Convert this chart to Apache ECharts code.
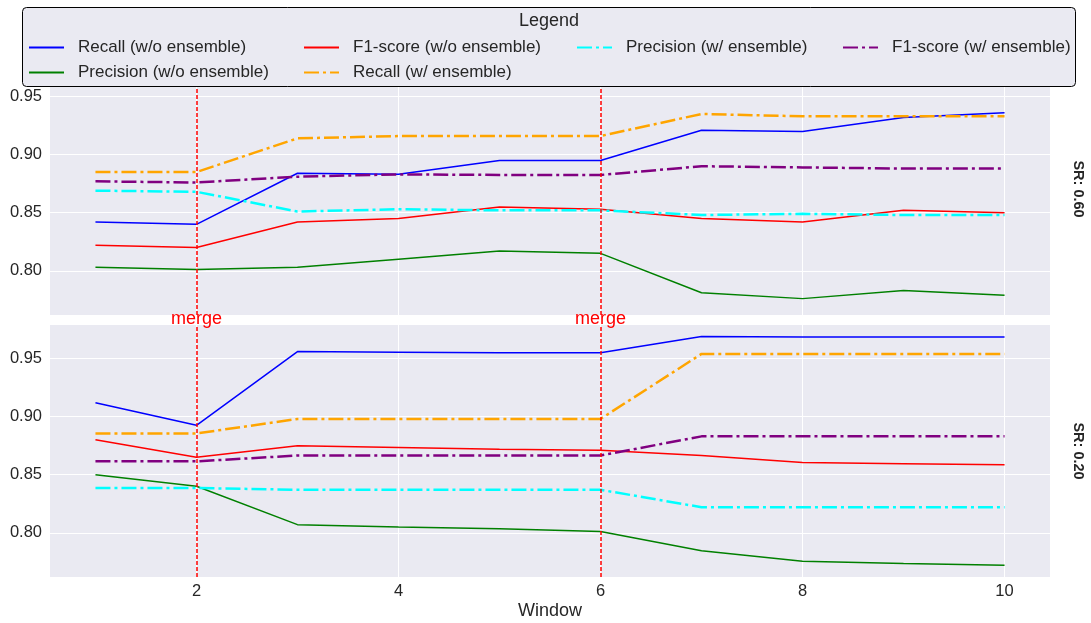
<!DOCTYPE html>
<html><head><meta charset="utf-8">
<script src="https://cdn.jsdelivr.net/npm/echarts@6/dist/echarts.min.js"></script>
<style>html,body{margin:0;padding:0;background:#fff}#c{width:1091px;height:623px}</style>
</head><body><div id="c"></div>
<script>
// ---------- data ----------
const windows = [1, 2, 3, 4, 5, 6, 7, 8, 9, 10];
const xTicks = [2, 4, 6, 8, 10];
const yTicks = [0.80, 0.85, 0.90, 0.95];
const mergeWindows = [2, 6];
const panelLabels = ['SR: 0.60', 'SR: 0.20'];
const seriesNames = [
  'Recall (w/o ensemble)', 'Precision (w/o ensemble)', 'F1-score (w/o ensemble)',
  'Recall (w/ ensemble)', 'Precision (w/ ensemble)', 'F1-score (w/ ensemble)'
];
// SR 0.60 (top panel)
const recallWo60    = [0.842, 0.840, 0.884, 0.883, 0.895, 0.895, 0.921, 0.920, 0.932, 0.936];
const precisionWo60 = [0.803, 0.801, 0.803, 0.810, 0.817, 0.815, 0.781, 0.776, 0.783, 0.779];
const f1Wo60        = [0.822, 0.820, 0.842, 0.845, 0.855, 0.853, 0.845, 0.842, 0.852, 0.850];
const recallW60     = [0.885, 0.885, 0.914, 0.916, 0.916, 0.916, 0.935, 0.933, 0.933, 0.933];
const precisionW60  = [0.869, 0.868, 0.851, 0.853, 0.852, 0.852, 0.848, 0.849, 0.848, 0.848];
const f1W60         = [0.877, 0.876, 0.881, 0.883, 0.8825, 0.8825, 0.890, 0.889, 0.888, 0.888];
// SR 0.20 (bottom panel)
const recallWo20    = [0.912, 0.8925, 0.956, 0.9555, 0.955, 0.955, 0.969, 0.9685, 0.9685, 0.9685];
const precisionWo20 = [0.850, 0.840, 0.807, 0.805, 0.8035, 0.801, 0.7845, 0.7755, 0.7735, 0.772];
const f1Wo20        = [0.880, 0.865, 0.875, 0.8735, 0.872, 0.871, 0.8665, 0.8605, 0.8595, 0.8585];
const recallW20     = [0.8855, 0.8855, 0.898, 0.898, 0.898, 0.898, 0.954, 0.954, 0.954, 0.954];
const precisionW20  = [0.8385, 0.8385, 0.837, 0.837, 0.837, 0.837, 0.822, 0.822, 0.822, 0.822];
const f1W20         = [0.8615, 0.8615, 0.8665, 0.8665, 0.8665, 0.8665, 0.883, 0.883, 0.883, 0.883];

const panelData = [
  [recallWo60, precisionWo60, f1Wo60, recallW60, precisionW60, f1W60],
  [recallWo20, precisionWo20, f1Wo20, recallW20, precisionW20, f1W20]
];

// ---------- styles ----------
const colors = ['#0000ff', '#008000', '#ff0000', '#ffa500', '#00ffff', '#800080'];
const dashDot = [15, 4, 3, 4];
const lineTypes = ['solid', 'solid', 'solid', dashDot, dashDot, dashDot];
const lineWidths = [1.5, 1.5, 1.5, 2.5, 2.5, 2.5];
const FONT = '"Liberation Sans", Arial, sans-serif';
const TXT = '#262626';
const BG = '#eaeaf2';

const yMin = 0.7619, yMax = 0.9789;
const xMin = 0.55, xMax = 10.45;

const grids = [
  { left: 50, width: 1000, top: 63, height: 252, backgroundColor: BG, show: true, borderWidth: 0, outerBoundsMode: 'none', containLabel: false },
  { left: 50, width: 1000, top: 325, height: 252, backgroundColor: BG, show: true, borderWidth: 0, outerBoundsMode: 'none', containLabel: false }
];

const xAxes = grids.map((g, i) => ({
  type: 'value', gridIndex: i, min: xMin, max: xMax,
  axisLine: { show: false },
  axisTick: { show: false, customValues: xTicks },
  axisLabel: { show: i === 1, customValues: xTicks, color: TXT, fontSize: 16.5, fontFamily: FONT, margin: 6 },
  splitLine: { show: true, lineStyle: { color: '#ffffff', width: 1 } },
  name: i === 1 ? 'Window' : '',
  nameLocation: 'middle', nameGap: 25,
  nameTextStyle: { color: TXT, fontSize: 18, fontFamily: FONT }
}));

const yAxes = [];
grids.forEach((g, i) => {
  yAxes.push({
    type: 'value', gridIndex: i, min: yMin, max: yMax,
    axisLine: { show: false },
    axisTick: { show: false, customValues: yTicks },
    axisLabel: { customValues: yTicks, color: TXT, fontSize: 16.5, fontFamily: FONT, margin: 8,
      formatter: v => v.toFixed(2) },
    splitLine: { show: true, lineStyle: { color: '#ffffff', width: 1 } }
  });
  yAxes.push({
    type: 'value', gridIndex: i, min: yMin, max: yMax, position: 'right',
    axisLine: { show: false }, axisTick: { show: false }, axisLabel: { show: false },
    splitLine: { show: false },
    name: panelLabels[i], nameLocation: 'middle', nameRotate: -90, nameGap: 20,
    nameTextStyle: { color: TXT, fontSize: 14.5, fontWeight: 'bold', fontFamily: FONT }
  });
});

const series = [];
panelData.forEach((arrs, p) => {
  arrs.forEach((vals, k) => {
    series.push({
      type: 'line', name: seriesNames[k],
      xAxisIndex: p, yAxisIndex: p * 2,
      data: windows.map((w, j) => [w, vals[j]]),
      symbol: 'none', animation: false,
      lineStyle: { color: colors[k], width: lineWidths[k], type: lineTypes[k] },
      itemStyle: { color: colors[k] },
      z: 3 + k * 0.01
    });
  });
  series.push({
    type: 'line', name: 'merge', xAxisIndex: p, yAxisIndex: p * 2, data: [],
    symbol: 'none', animation: false, z: 4,
    markLine: {
      silent: true, symbol: 'none', animation: false,
      lineStyle: { color: '#ff0000', type: [4, 2], width: 1.5 },
      label: { show: p === 0, position: 'start', formatter: 'merge', color: '#ff0000',
        fontSize: 18, fontFamily: FONT, distance: -5 },
      data: mergeWindows.map(v => ({ xAxis: v }))
    }
  });
});

const legendCols = [
  { left: 28, names: [seriesNames[0], seriesNames[1]] },
  { left: 303, names: [seriesNames[2], seriesNames[3]] },
  { left: 576, names: [seriesNames[4]] },
  { left: 842, names: [seriesNames[5]] }
];
const legends = legendCols.map(c => ({
  orient: 'vertical', left: c.left, top: 39, data: c.names, padding: 0,
  itemWidth: 35, itemHeight: 14, itemGap: 8, z: 30,
  itemStyle: { opacity: 0 },
  textStyle: { color: TXT, fontSize: 17, lineHeight: 17, fontFamily: FONT, padding: [0, 0, 0, 9] },
  selectedMode: false
}));

const option = {
  animation: false,
  backgroundColor: '#ffffff',
  grid: grids,
  xAxis: xAxes,
  yAxis: yAxes,
  series: series,
  legend: legends,
  title: {
    text: 'Legend', left: 549, top: 12, textAlign: 'center', z: 30, padding: 0,
    textStyle: { color: TXT, fontSize: 18, fontWeight: 'normal', fontFamily: FONT }
  },
  graphic: [{
    type: 'rect', z: 20, silent: true,
    shape: { x: 22.5, y: 7.5, width: 1053, height: 79, r: 4 },
    style: { fill: BG, stroke: '#000000', lineWidth: 1 }
  }]
};

const chart = echarts.init(document.getElementById('c'), null, { renderer: 'canvas' });
chart.setOption(option);
</script>
</body></html>
